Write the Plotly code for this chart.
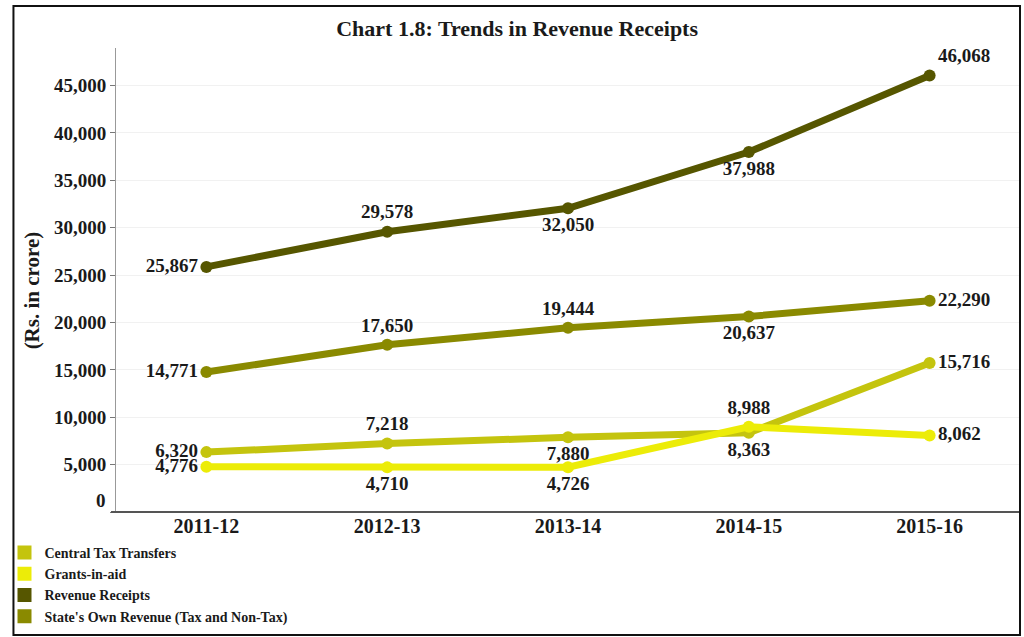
import plotly.graph_objects as go

# Financial years on the category axis
years = ["2011-12", "2012-13", "2013-14", "2014-15", "2015-16"]

# Receipts in Rs. crore
central_tax_transfers = [6320, 7218, 7880, 8363, 15716]
grants_in_aid = [4776, 4710, 4726, 8988, 8062]
revenue_receipts = [25867, 29578, 32050, 37988, 46068]
states_own_revenue = [14771, 17650, 19444, 20637, 22290]

y_ticks = [0, 5000, 10000, 15000, 20000, 25000, 30000, 35000, 40000, 45000]
y_tick_text = ["", "5,000", "10,000", "15,000", "20,000", "25,000",
               "30,000", "35,000", "40,000", "45,000"]

FONT = "Liberation Serif"
INK = "#1a1a1a"
TXT = dict(family=FONT, size=19, color=INK, weight="bold")

series = [
    # name, values, colour, label positions
    ("Revenue Receipts", revenue_receipts, "#565600",
     ["middle left", "top center", "bottom center", "bottom center", "top right"]),
    ("State's Own Revenue (Tax and Non-Tax)", states_own_revenue, "#8a8a00",
     ["middle left", "top center", "top center", "bottom center", "middle right"]),
    ("Central Tax Transfers", central_tax_transfers, "#c4c40e",
     ["middle left", "top center", "bottom center", "bottom center", "middle right"]),
    ("Grants-in-aid", grants_in_aid, "#ecec08",
     ["middle left", "bottom center", "bottom center", "top center", "middle right"]),
]

fig = go.Figure()
for name, vals, col, pos in series:
    fig.add_trace(go.Scatter(
        x=years, y=vals, mode="lines+markers+text",
        line=dict(color=col, width=7),
        marker=dict(color=col, size=12),
        text=[f"{v:,}" for v in vals],
        textposition=pos,
        textfont=TXT,
        cliponaxis=False,
        showlegend=False,
        name=name,
    ))

# Square swatches for the legend
legend_order = ["Central Tax Transfers", "Grants-in-aid", "Revenue Receipts",
                "State's Own Revenue (Tax and Non-Tax)"]
colours = {s[0]: s[2] for s in series}
for name in legend_order:
    fig.add_trace(go.Scatter(
        x=[None], y=[None], mode="markers", name=name,
        marker=dict(symbol="square", size=14, color=colours[name]),
        showlegend=True,
    ))

W, H = 1024, 637
PLOT_L, PLOT_R, PLOT_T, PLOT_B = 112, 1020, 48, 512
PW, PH = PLOT_R - PLOT_L, PLOT_B - PLOT_T


def px_x(px):
    return (px - PLOT_L) / PW


def px_y(py):
    return (PLOT_B - py) / PH


fig.update_layout(
    width=W, height=H,
    margin=dict(l=PLOT_L, r=W - PLOT_R, t=PLOT_T, b=H - PLOT_B),
    paper_bgcolor="white", plot_bgcolor="white",
    font=dict(family=FONT, color=INK),
    title=dict(text="Chart 1.8: Trends in Revenue Receipts",
               x=0.505, xanchor="center", y=1 - 28 / H, yanchor="middle",
               font=dict(family=FONT, size=22, color=INK, weight="bold")),
    xaxis=dict(
        type="category", range=[-0.5, 4.5],
        showline=False, showgrid=False, ticks="",
        tickfont=dict(family=FONT, size=20, color=INK, weight="bold"),
    ),
    yaxis=dict(
        range=[0, 48970], tickvals=y_ticks, ticktext=y_tick_text,
        showline=True, linecolor="#999999", linewidth=1,
        ticks="outside", ticklen=5, tickcolor="#777777",
        showgrid=True, gridcolor="#f1f1f1", zeroline=False,
        tickfont=dict(family=FONT, size=19, color=INK, weight="bold"),
    ),
    legend=dict(
        x=px_x(0), xanchor="left", y=px_y(632), yanchor="bottom",
        font=dict(family=FONT, size=14, color=INK, weight="bold"),
        itemwidth=30, tracegroupgap=0, bgcolor="rgba(0,0,0,0)",
    ),
    annotations=[
        dict(text="(Rs. in crore)", textangle=-90,
             xref="paper", yref="paper", x=px_x(28), y=px_y(290),
             xanchor="center", yanchor="middle", showarrow=False,
             font=dict(family=FONT, size=21, color=INK, weight="bold")),
        # zero label sits just above the category axis line
        dict(text="0", xref="paper", yref="y", x=px_x(104), y=0, yshift=12,
             xanchor="right", yanchor="middle", showarrow=False,
             font=dict(family=FONT, size=19, color=INK, weight="bold")),
    ],
    shapes=[
        # category axis line, running a little left of the value axis
        dict(type="line", xref="paper", yref="paper",
             x0=px_x(107), x1=1.0, y0=0, y1=0,
             line=dict(color="#555555", width=2)),
        # outer frame
        dict(type="rect", xref="paper", yref="paper",
             x0=px_x(9), x1=px_x(1020), y0=px_y(635), y1=px_y(6),
             line=dict(color="#111111", width=2), fillcolor="rgba(0,0,0,0)"),
    ],
)

fig.write_html("out.html")
